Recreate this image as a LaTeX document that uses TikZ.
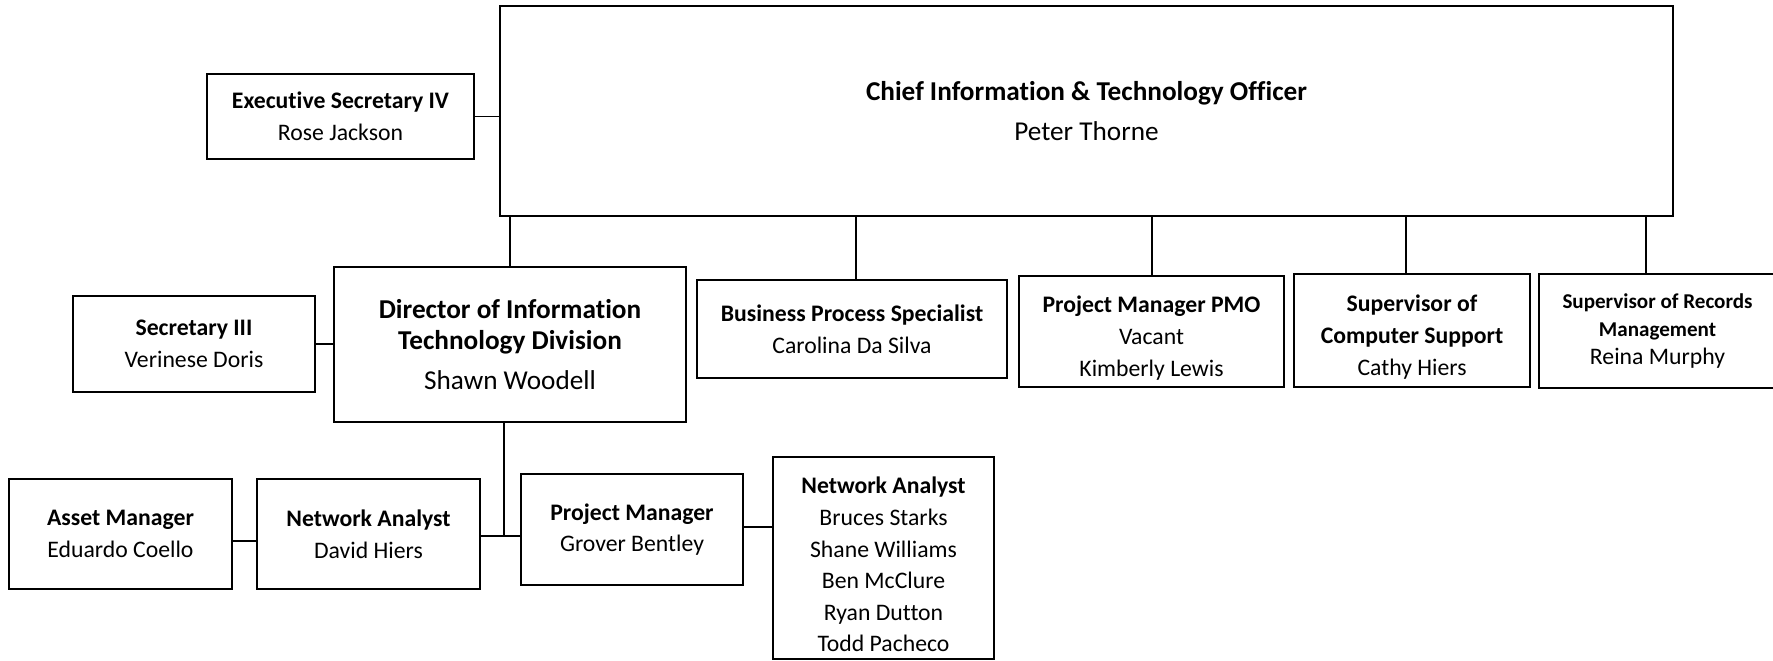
\documentclass[tikz,border=0pt]{standalone}
\usepackage{xcolor}
\usepackage{fontspec}
\setmainfont[Ligatures=CommonOff]{Carlito}
\usepackage{tikz}
\usetikzlibrary{shapes,arrows,positioning,fit,backgrounds}

\begin{document}
\begin{tikzpicture}[
    x=0.02cm,
    y=-0.02cm,
    block/.style={
        rectangle,
        draw,
        line width=1.1pt,
        fill=white,
        align=center,
        inner sep=0pt,
        font=\fontsize{13.5}{18}\selectfont
    },
    bigblock/.style={
        block,
        font=\fontsize{15.5}{17.5}\selectfont
    },
    line/.style={
        draw, line width=1.1pt
    }
]
    \useasboundingbox (0,0) rectangle (1773,661);

    % Nodes
    \node [bigblock, minimum width=23.46cm, minimum height=4.2cm] (cio) at (1086.5,111)
        {\textbf{Chief Information \& Technology Officer}\\[5pt] Peter Thorne};
    \node [block, minimum width=5.34cm, minimum height=1.7cm] (execsec) at (340.5,116.5)
        {\textbf{Executive Secretary IV}\\ Rose Jackson};
    \node [bigblock, minimum width=7.04cm, minimum height=3.1cm] (director) at (510,344.5)
        {\textbf{Director of Information}\\ \textbf{Technology Division}\\[5pt] Shawn Woodell};
    \node [block, minimum width=4.84cm, minimum height=1.92cm] (secthree) at (194,344)
        {\textbf{Secretary III}\\ Verinese Doris};
    \node [block, minimum width=6.2cm, minimum height=1.96cm] (bps) at (852,329)
        {\textbf{Business Process Specialist}\\ Carolina Da Silva};
    % extra rule height pushes the three-line texts a little lower
    \node [block, minimum width=5.3cm, minimum height=2.22cm] (pmo) at (1151.5,331.5)
        {\rule{0pt}{17pt}\textbf{Project Manager PMO}\\ Vacant\\ Kimberly Lewis};
    \node [block, minimum width=4.72cm, minimum height=2.26cm] (compsup) at (1412,330.5)
        {\rule{0pt}{17pt}\textbf{Supervisor of}\\ \textbf{Computer Support}\\ Cathy Hiers};
    \node [block, minimum width=4.74cm, minimum height=2.28cm] (records) at (1657.5,331)
        {{\fontsize{12}{16}\selectfont\textbf{Supervisor of Records}}\\[-2pt]
         {\fontsize{12}{16}\selectfont\textbf{Management}}\\[-2pt] Reina Murphy};
    \node [block, minimum width=4.46cm, minimum height=2.2cm] (asset) at (120.5,534)
        {\textbf{Asset Manager}\\ Eduardo Coello};
    \node [block, minimum width=4.46cm, minimum height=2.2cm] (netdavid) at (368.5,534)
        {\textbf{Network Analyst}\\ David Hiers};
    \node [block, minimum width=4.44cm, minimum height=2.22cm] (projmgr) at (632,529.5)
        {\textbf{Project Manager}\\ Grover Bentley};
    \node [block, minimum width=4.42cm, minimum height=4.04cm] (netteam) at (883.5,558)
        {\rule{0pt}{17pt}\textbf{Network Analyst}\\ Bruces Starks\\ Shane Williams\\ Ben McClure\\ Ryan Dutton\\ Todd Pacheco};
    \coordinate (split) at (504,536);

    % Edges
    \path [line] (execsec.east) -- (execsec.east -| cio.west);
    \path [line] (director.north) -- (director.north |- cio.south);
    \path [line] ([xshift=0.08cm]bps.north) -- ([xshift=0.08cm]bps.north |- cio.south);
    \path [line] ([xshift=0.01cm]pmo.north) -- ([xshift=0.01cm]pmo.north |- cio.south);
    \path [line] ([xshift=-0.12cm]compsup.north) -- ([xshift=-0.12cm]compsup.north |- cio.south);
    \path [line] ([xshift=-0.23cm]records.north) -- ([xshift=-0.23cm]records.north |- cio.south);
    \path [line] (secthree.east) -- (secthree.east -| director.west);
    \path [line] (director.south -| split) -- (split);
    \path [line] (netdavid.east |- split) -- (projmgr.west |- split);
    \path [line] ([yshift=-0.14cm]asset.east) -- ([yshift=-0.14cm]asset.east -| netdavid.west);
    \path [line] (projmgr.east |- 0,527) -- (netteam.west |- 0,527);

\end{tikzpicture}
\end{document}
